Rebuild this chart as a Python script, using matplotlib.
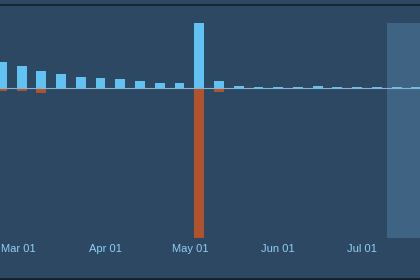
import numpy as np
import pandas as pd
import matplotlib
matplotlib.use('Agg')
import matplotlib.pyplot as plt
import matplotlib.dates as mdates

# weekly buckets (Mondays, 2020)
weeks = pd.date_range('2020-02-24', '2020-07-20', freq='7D')
gains = [25.5, 22, 17, 13.5, 11, 10, 9, 6.5, 4.5, 4.5, 65, 7,
         2, 1, 1, 1, 1.5, 1, 1, 1, 1, 1]
losses = [-3, -3.5, -5, -1, -1, -0.5, -0.5, -0.5, -0.5, -1, -150, -4,
          -0.5, -0.3, -0.3, -0.3, -0.3, -0.3, -0.3, -0.3, -0.3, -0.3]
tick_dates = ['2020-03-01', '2020-04-01', '2020-05-01', '2020-06-01', '2020-07-01']
shade_start = '2020-07-09 18:00'

bg = '#2c4862'
fig = plt.figure(figsize=(4.2, 2.8), dpi=100, facecolor=bg)
ax = fig.add_axes([0, 42.5 / 280, 1, 215 / 280], facecolor=bg)

x = mdates.date2num(weeks.to_pydatetime())
ax.bar(x + 0.3, gains, width=3.5, color='#62c2f2', zorder=3)
ax.bar(x + 0.3, losses, width=3.5, color='#b0532c', zorder=3)
ax.axhline(0, color='#86b3d2', lw=0.8, zorder=4)

ax.axvspan(mdates.datestr2num(shade_start), mdates.datestr2num('2020-08-01'),
           color='#3f6383', zorder=1, lw=0)

ax.set_xlim(mdates.datestr2num('2020-02-23') + 0.64, mdates.datestr2num('2020-07-21') + 0.6)
ax.set_ylim(-150, 65)

ax.set_xticks([mdates.datestr2num(d) for d in tick_dates])
ax.xaxis.set_major_formatter(mdates.DateFormatter('%b %d'))
ax.tick_params(axis='x', length=0, pad=4.5, labelsize=8, labelcolor='#8fcff5')
for lbl in ax.get_xticklabels():
    lbl.set_family('Liberation Sans')
ax.set_yticks([])
for s in ax.spines.values():
    s.set_visible(False)

# frame edges of the panel
fig.add_artist(plt.Line2D([0, 1], [1 - 4.5 / 280] * 2, color='#172634', lw=1.5))
fig.add_artist(plt.Line2D([0, 1], [1.2 / 280] * 2, color='#14212c', lw=2))

fig.savefig('out.png', dpi=100, facecolor=bg)
